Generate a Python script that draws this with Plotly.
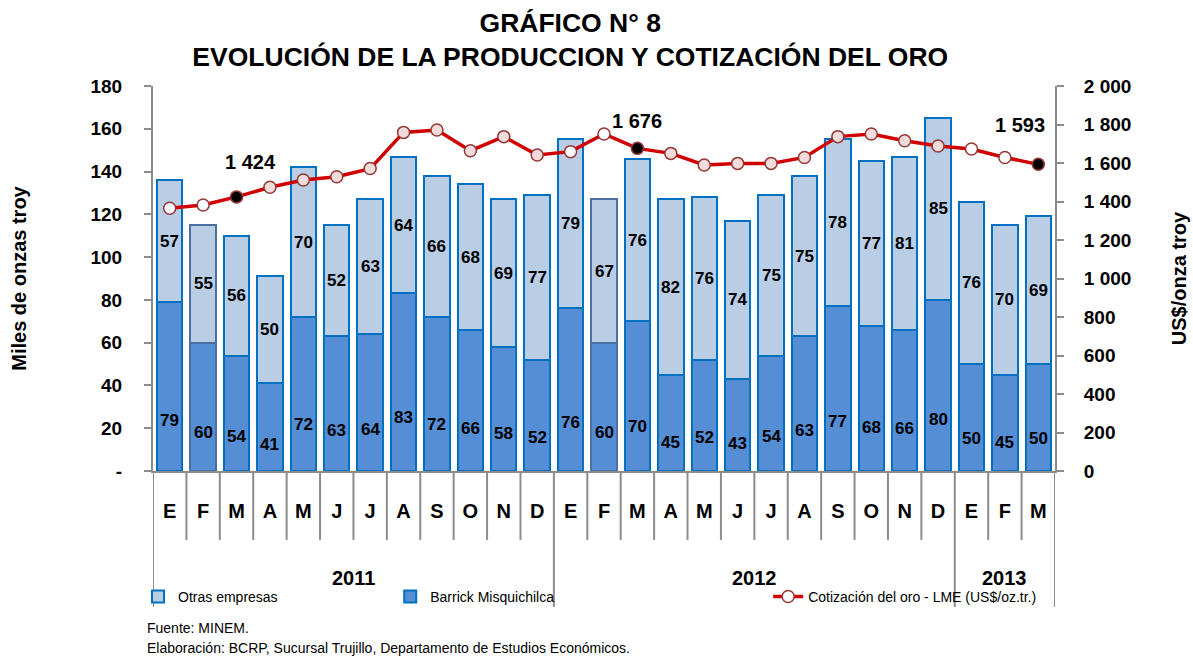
import plotly.graph_objects as go

# ---------------- data ----------------
months = ["E", "F", "M", "A", "M", "J", "J", "A", "S", "O", "N", "D",
          "E", "F", "M", "A", "M", "J", "J", "A", "S", "O", "N", "D",
          "E", "F", "M"]
years = ["2011"] * 12 + ["2012"] * 12 + ["2013"] * 3
barrick = [79, 60, 54, 41, 72, 63, 64, 83, 72, 66, 58, 52,
           76, 60, 70, 45, 52, 43, 54, 63, 77, 68, 66, 80,
           50, 45, 50]
otras = [57, 55, 56, 50, 70, 52, 63, 64, 66, 68, 69, 77,
         79, 67, 76, 82, 76, 74, 75, 75, 78, 77, 81, 85,
         76, 70, 69]
cotizacion = [1365, 1382, 1424, 1474, 1512, 1529, 1571, 1759, 1771, 1664, 1737, 1642,
              1659, 1751, 1676, 1650, 1590, 1598, 1598, 1629, 1737, 1751, 1716, 1688,
              1673, 1629, 1593]
left_ticks = [0, 20, 40, 60, 80, 100, 120, 140, 160, 180]
right_ticks = [0, 200, 400, 600, 800, 1000, 1200, 1400, 1600, 1800, 2000]

# ---------------- styling ----------------
FONT = "Arial, Liberation Sans, sans-serif"
GRAY = "#8C8C8C"
n = len(months)
xs = list(range(n))
month_num = [i % 12 + 1 for i in range(n)]


def fmt(v):
    return f"{v:,}".replace(",", " ")


mk_colors = []
for m in month_num:
    if m in (1, 2):
        mk_colors.append("white")
    elif m == 3:
        mk_colors.append("black")
    else:
        mk_colors.append("#F2DCDB")

bar_line_colors = ["#4A6FA0" if (m == 2 and y != "2013") else "#0070C0"
                   for m, y in zip(month_num, years)]

fig = go.Figure()
fig.add_trace(go.Bar(
    x=xs, y=barrick, name="Barrick Misquichilca", yaxis="y",
    marker=dict(color="#558ED5", line=dict(color=bar_line_colors, width=2)),
    legend="legend2",
))
fig.add_trace(go.Bar(
    x=xs, y=otras, name="Otras empresas", yaxis="y",
    marker=dict(color="#B9CDE5", line=dict(color=bar_line_colors, width=2)),
    legend="legend",
))
fig.add_trace(go.Scatter(
    x=xs, y=cotizacion, name="Cotización del oro - LME (US$/oz.tr.)", yaxis="y2",
    mode="lines+markers",
    line=dict(color="#D00000", width=3.5),
    marker=dict(size=12, color=mk_colors, line=dict(color="#953735", width=1.5)),
    legend="legend3",
))

annotations = []
# bar value labels
for i in xs:
    annotations.append(dict(x=i, y=barrick[i] * 0.3, xref="x", yref="y", text=str(barrick[i]),
                            showarrow=False, font=dict(family=FONT, size=17, color="black", weight="bold")))
    annotations.append(dict(x=i, y=barrick[i] + otras[i] / 2, xref="x", yref="y", text=str(otras[i]),
                            showarrow=False, font=dict(family=FONT, size=17, color="black", weight="bold")))

# price labels at March points
shifts = {2: (14, 35), 14: (0, 27), 26: (-18, 39)}
for i in xs:
    if month_num[i] == 3:
        dx, dy = shifts.get(i, (0, 30))
        annotations.append(dict(x=i, y=cotizacion[i], xref="x", yref="y2", text=fmt(cotizacion[i]),
                                showarrow=False, xshift=dx, yshift=dy,
                                font=dict(family=FONT, size=20, color="black", weight="bold")))

# year labels
year_groups = []
for y in dict.fromkeys(years):
    idx = [i for i in xs if years[i] == y]
    year_groups.append((y, idx[0], idx[-1]))
    annotations.append(dict(x=sum(idx) / len(idx), y=-0.278, xref="x", yref="paper", text=y,
                            showarrow=False, yanchor="middle",
                            font=dict(family=FONT, size=20, color="black", weight="bold")))

# footnotes
annotations.append(dict(x=-0.009, y=-0.408, xref="paper", yref="paper", text="Fuente: MINEM.",
                        showarrow=False, xanchor="left", yanchor="middle",
                        font=dict(family=FONT, size=14, color="black")))
annotations.append(dict(x=-0.009, y=-0.46, xref="paper", yref="paper",
                        text="Elaboración: BCRP, Sucursal Trujillo, Departamento de Estudios Económicos.",
                        showarrow=False, xanchor="left", yanchor="middle",
                        font=dict(family=FONT, size=14, color="black")))

# separators under the category axis
shapes = []
year_bounds = set()
for y, a, b in year_groups:
    year_bounds.add(a - 0.5)
    year_bounds.add(b + 0.5)
for k in range(n + 1):
    xb = k - 0.5
    y1 = -0.353 if xb in year_bounds else -0.179
    shapes.append(dict(type="line", xref="x", yref="paper", x0=xb, x1=xb, y0=0, y1=y1,
                       line=dict(color=GRAY, width=2), layer="below"))

legend_common = dict(orientation="h", yanchor="middle", y=-0.327, xanchor="left",
                     font=dict(family=FONT, size=14, color="black"), bgcolor="rgba(0,0,0,0)")

fig.update_layout(
    width=1193, height=657,
    margin=dict(l=153, r=138, t=86, b=186, autoexpand=False),
    plot_bgcolor="white", paper_bgcolor="white",
    barmode="stack", bargap=0.24,
    title=dict(text="GRÁFICO N° 8<br>EVOLUCIÓN DE LA PRODUCCION Y COTIZACIÓN DEL ORO",
               x=0.478, xanchor="center", y=0.952, yanchor="top",
               font=dict(family=FONT, size=26.5, color="black", weight="bold")),
    xaxis=dict(range=[-0.5, n - 0.5], tickmode="array", tickvals=xs, ticktext=months,
               ticks="", showgrid=False, zeroline=False, showline=True, linecolor=GRAY, linewidth=2,
               ticklabelstandoff=21, automargin=False,
               tickfont=dict(family=FONT, size=20, color="black", weight="bold")),
    yaxis=dict(range=[0, 180], tickmode="array", tickvals=left_ticks,
               ticktext=["-" if v == 0 else str(v) for v in left_ticks],
               ticks="outside", ticklen=7, tickcolor=GRAY, tickwidth=2,
               showline=True, linecolor=GRAY, linewidth=2, showgrid=False, zeroline=False,
               ticklabelstandoff=18, automargin=False,
               tickfont=dict(family=FONT, size=19, color="black", weight="bold"),
               title=dict(text="Miles de onzas troy", standoff=58,
                          font=dict(family=FONT, size=20, color="black", weight="bold"))),
    yaxis2=dict(range=[0, 2000], overlaying="y", side="right", tickmode="array",
                tickvals=right_ticks, ticktext=[fmt(v) for v in right_ticks],
                ticks="outside", ticklen=7, tickcolor=GRAY, tickwidth=2,
                showline=True, linecolor=GRAY, linewidth=2, showgrid=False, zeroline=False,
                ticklabelstandoff=16, automargin=False,
                tickfont=dict(family=FONT, size=19, color="black", weight="bold"),
                title=dict(text="US$/onza troy", standoff=42,
                           font=dict(family=FONT, size=20, color="black", weight="bold"))),
    legend=dict(x=-0.0166, **legend_common),
    legend2=dict(x=0.263, **legend_common),
    legend3=dict(x=0.682, **legend_common),
    annotations=annotations,
    shapes=shapes,
    showlegend=True,
)

fig.write_html("out.html", config={"displayModeBar": False},
               post_script="document.body.style.margin='0px';")
